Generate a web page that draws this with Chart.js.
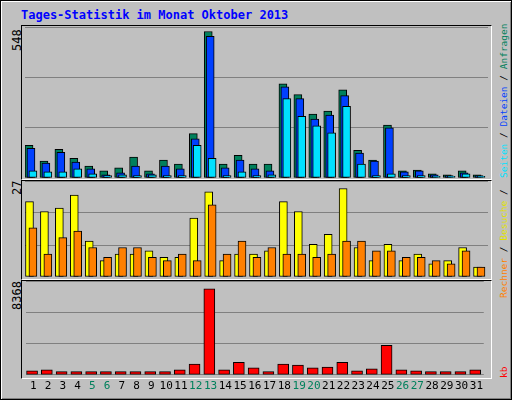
<!DOCTYPE html>
<html><head><meta charset="utf-8">
<script src="https://cdn.jsdelivr.net/npm/chart.js@4"></script>
<style>
body{margin:0;background:#fff}
#root{position:absolute;left:0;top:0;width:510px;height:398px;background:#c0c0c0;border:1px solid #000;box-shadow:inset 1px 1px 0 #fff, inset -1px -1px 0 #808080}
.t{position:absolute;font-family:"DejaVu Sans Mono",monospace;font-size:12px;white-space:nowrap}
.rot{transform-origin:0 0;transform:rotate(-90deg)}
.frame{position:absolute;border-top:1px solid #000;border-left:1px solid #000;border-right:1px solid #fff;border-bottom:1px solid #fff;box-sizing:border-box}
canvas{position:absolute}
</style></head><body><div id="root">
<div class="t" style="left:20px;top:7px;color:#0000ff;font-weight:bold;font-size:12px">Tages-Statistik im Monat Oktober 2013</div>
<div class="frame" style="left:20px;top:24px;width:471px;height:155px"></div>
<div class="frame" style="left:20px;top:179px;width:471px;height:100px"></div>
<div class="frame" style="left:20px;top:279px;width:471px;height:99px"></div>
<div class="t rot" style="left:9px;top:50px">548</div>
<div class="t rot" style="left:9px;top:194px">27</div>
<div class="t rot" style="left:9px;top:309px">8368</div>
<div class="t rot" style="left:497px;top:177px;font-size:9.5px"><span style="color:#00e0ff">Seiten</span> / <span style="color:#0040ff">Dateien</span> / <span style="color:#00805c">Anfragen</span></div>
<div class="t rot" style="left:497px;top:297px;font-size:9.5px"><span style="color:#ff8000">Rechner</span> / <span style="color:#e0e000">Besuche</span> / </div>
<div class="t rot" style="left:497px;top:377px;font-size:9.5px;color:#ff0000">kb</div>
<canvas id="c1"></canvas><canvas id="c2"></canvas><canvas id="c3"></canvas>
</div>
<script>
const days = Array.from({length:31},(_,i)=>i+1);
const weekend = [5,6,12,13,19,20,26,27];
const anfragen = [122,63,107,74,45,27,38,78,27,67,52,166,548,52,85,52,52,352,312,239,250,330,104,67,198,27,30,16,12,27,12];
const dateien  = [111,56,96,60,34,12,19,45,16,45,34,147,530,38,67,34,27,341,297,220,235,308,93,63,188,23,27,12,9,19,9];
const seiten   = [27,23,23,34,16,9,12,9,12,9,9,122,74,9,23,9,12,297,231,195,169,268,52,9,16,9,9,6,6,16,6];
const besuche  = [23,20,21,25,11,5,7,7,8,6,6,18,26,5,7,7,8,23,20,10,13,27,9,5,10,5,7,4,5,9,3];
const rechner  = [15,7,12,14,9,6,9,9,6,5,7,5,22,7,11,6,9,7,7,6,7,11,11,8,8,6,6,5,4,8,3];
const kb = [396,487,304,304,304,304,304,304,304,304,487,1035,8368,487,1217,669,304,1035,943,669,761,1217,396,578,2860,487,396,304,304,304,487];

function place(id,l,t,w,h){const c=document.getElementById(id);c.style.left=l+'px';c.style.top=t+'px';c.style.width=w+'px';c.style.height=h+'px';c.width=w;c.height=h;return c;}
function ds(vals,color,shift,thick){return {data:vals.map((v,i)=>({x:days[i]+shift,y:v})),backgroundColor:color,borderColor:'#000',borderWidth:1,borderSkipped:false,barThickness:thick,grouped:false};}
function opts(max,showX){
  return {responsive:false,animation:false,events:[],layout:{padding:0},
    plugins:{legend:{display:false},tooltip:{enabled:false}},
    scales:{
      x:{type:'linear',min:0.5,max:31.5,display:showX,offset:false,grid:{display:false,drawTicks:false},border:{display:false},
         afterBuildTicks:(s)=>{s.ticks=days.map(d=>({value:d}));},
         ticks:{padding:5,maxRotation:0,autoSkip:false,font:{family:'DejaVu Sans Mono',size:11},
           color:(c)=>weekend.includes(c.tick.value)?'#00805c':'#000'}},
      y:{min:0,max:max,ticks:{display:false,stepSize:max/3},grid:{color:'#808080',lineWidth:1,drawTicks:false},border:{display:false}}
    }};
}
new Chart(place('c1',24,26,463,151),{type:'bar',data:{datasets:[ds(seiten,'#00e0ff',0.03,8),ds(dateien,'#0040ff',-0.1,8),ds(anfragen,'#00805c',-0.23,8)]},options:opts(565,false)});
new Chart(place('c2',24,180,463,96),{type:'bar',data:{datasets:[ds(rechner,'#ff8000',0.03,8),ds(besuche,'#ffff00',-0.2,8)]},options:opts(29.3,false)});
new Chart(place('c3',24,280,463,117),{type:'bar',data:{datasets:[ds(kb,'#ff0000',-0.08,11)]},options:opts(9129,true)});
</script></body></html>
